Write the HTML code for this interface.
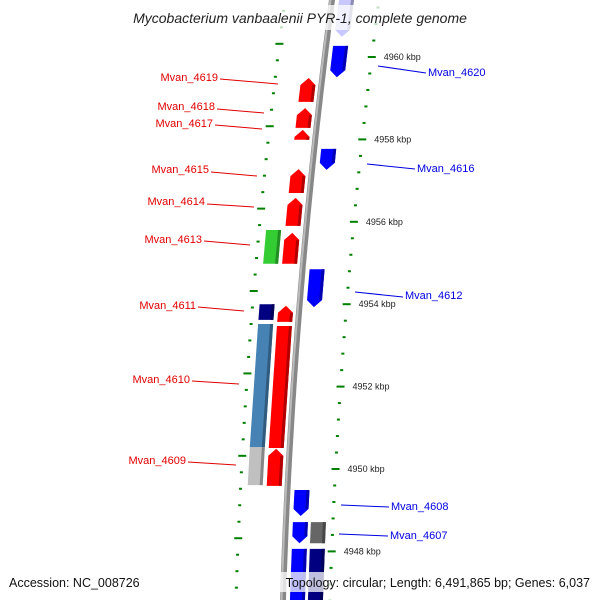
<!DOCTYPE html>
<html><head><meta charset="utf-8"><style>
html,body{margin:0;padding:0;background:#fff;}
svg{display:block;font-family:"Liberation Sans","DejaVu Sans",sans-serif;}
</style></head><body>
<svg id="map" width="600" height="600" viewBox="0 0 600 600" xmlns="http://www.w3.org/2000/svg">
<g id="ticks"></g>
<path id="backbone" fill="none" stroke="#888" stroke-width="6"/>
<path id="backbone-hi" fill="none" stroke="#bbb" stroke-width="2"/>
<g id="genes"></g>
<g id="labels" font-size="11"></g>
<g id="kbplabels" font-size="9" fill="#222"></g>
<rect x="112" y="5" width="376" height="25" fill="#fff" opacity="0.75"/>
<text x="300" y="23" text-anchor="middle" font-size="14" font-style="italic" fill="#222">Mycobacterium vanbaalenii PYR-1, complete genome</text>
<rect x="255" y="572" width="340" height="20" fill="#fff" opacity="0.75"/>
<text x="9" y="587" font-size="12.5" fill="#111">Accession: NC_008726</text>
<text x="590" y="587" text-anchor="end" font-size="12.5" fill="#111">Topology: circular; Length: 6,491,865 bp; Genes: 6,037</text>
</svg>
<script>
const geneNames = ["top","Mvan_4620","Mvan_4619","Mvan_4618","Mvan_4617","Mvan_4616","Mvan_4615","Mvan_4614","green","Mvan_4613","Mvan_4612","navy","Mvan_4611","steel","Mvan_4610","gray1","Mvan_4609","Mvan_4608","Mvan_4607","gray2","blue-bottom","navy-bottom"];
const geneStart = [4960.49,4959.51,4958.91,4958.28,4957.99,4957.26,4956.70,4955.90,4954.98,4954.98,4953.93,4953.62,4953.57,4950.53,4950.51,4949.61,4949.59,4948.86,4948.20,4948.20,4946.8,4946.8];
const geneEnd   = [4961.4,4960.27,4959.49,4958.76,4958.23,4957.77,4957.28,4956.58,4955.80,4955.73,4954.85,4954.00,4953.96,4953.52,4953.47,4950.53,4950.49,4949.49,4948.71,4948.71,4948.06,4948.06];
const geneStrand = [1,1,-1,-1,-1,1,-1,-1,-1,-1,1,-1,-1,-1,-1,-1,-1,1,1,1,1,1];
const geneTrack  = [1,1,1,1,1,1,1,1,2,1,1,2,1,2,1,2,1,1,1,2,1,2];
const geneColor  = ["#c8c8ff","#0000ff","#ff0000","#ff0000","#ff0000","#0000ff","#ff0000","#ff0000","#33cc33","#ff0000","#0000ff","#000080","#ff0000","#4682b4","#ff0000","#c0c0c0","#ff0000","#0000ff","#0000ff","#666666","#0000ff","#000080"];
const geneArrow  = [1,1,1,1,1,1,1,1,0,1,1,0,1,0,0,0,1,1,1,0,0,0];
const majorTicks = [4960,4958,4956,4954,4952,4950,4948];
const majorLabels = ["4960 kbp","4958 kbp","4956 kbp","4954 kbp","4952 kbp","4950 kbp","4948 kbp"];

const NS="http://www.w3.org/2000/svg";
function yOf(k){return 57+(4960-k)*41.2;}
function bx(y){return 332-0.1317*y+8.33e-5*y*y;}
function el(t,a){const e=document.createElementNS(NS,t);for(const k in a)e.setAttribute(k,a[k]);return e;}

// backbone
let d="";for(let y=-5;y<=605;y+=5){d+=(y<0?"M":"L")+bx(y).toFixed(1)+" "+y+" ";}
document.getElementById("backbone").setAttribute("d",d);
let d2="";for(let y=-5;y<=605;y+=5){d2+=(y<0?"M":"L")+(bx(y)-1.5).toFixed(1)+" "+y+" ";}
document.getElementById("backbone-hi").setAttribute("d",d2);

// ticks
const tg=document.getElementById("ticks");
for(let i=-4;i<=40;i++){
  const k=4960-i*0.4; const y=yOf(k); if(y<-5||y>605)continue;
  const major=(i%5===0);
  const x=bx(y)+47;
  const t=el("line",{x1:x-(major?4:1.5),x2:x+(major?4:1.5),y1:y,y2:y,stroke:"#008000","stroke-width":2});
  
  
  tg.appendChild(t);
  const k2=k+0.32; const y2=yOf(k2);
  if(y2<-5||y2>605)continue;
  const x2=bx(y2)-47;
  const t2=el("line",{x1:x2-(major?4:1.5),x2:x2+(major?4:1.5),y1:y2,y2:y2,stroke:"#008000","stroke-width":2});
  
  
  tg.appendChild(t2);
}
const kl=document.getElementById("kbplabels");
majorTicks.forEach((k,i)=>{const y=yOf(k);
  const t=el("text",{x:bx(y)+59,y:y+3});t.textContent=majorLabels[i];
  
  
  kl.appendChild(t);});

// genes
const gg=document.getElementById("genes");
function shade(c){const n=parseInt(c.slice(1),16);const r=(n>>16)*0.7|0,g=((n>>8)&255)*0.7|0,b=(n&255)*0.7|0;return "rgb("+r+","+g+","+b+")";}
geneNames.forEach((n,i)=>{
  const ya=yOf(geneEnd[i]), yb=yOf(geneStart[i]);
  const top=Math.min(ya,yb), bot=Math.max(ya,yb);
  const s=geneStrand[i];
  const o1 = s>0 ? (geneTrack[i]===1?7:25) : (geneTrack[i]===1?-21:-40);
  const o2 = o1+15;
  const P=(o,y)=>[(bx(y)+o).toFixed(1),y.toFixed(1)].join(",");
  let pts;
  const h=Math.min(7,bot-top);
  if(geneArrow[i]){
    if(s<0){ // points up
      pts=[P(o1,bot),P(o1,top+h),P((o1+o2)/2,top),P(o2,top+h),P(o2,bot)];
    } else { // points down
      pts=[P(o1,top),P(o2,top),P(o2,bot-h),P((o1+o2)/2,bot),P(o1,bot-h)];
    }
  } else pts=[P(o1,top),P(o2,top),P(o2,bot),P(o1,bot)];
  const g=el("polygon",{points:pts.join(" "),fill:geneColor[i]});
  
  
  gg.appendChild(g);
  const sp=[P(o2-3,top+(s<0&&geneArrow[i]?h:0)),P(o2,top+(s<0&&geneArrow[i]?h:0)),P(o2,bot-(s>0&&geneArrow[i]?h:0)),P(o2-3,bot-(s>0&&geneArrow[i]?h:0))];
  const e=el("polygon",{points:sp.join(" "),fill:shade(geneColor[i])});
  
  
  gg.appendChild(e);
});
// top white fade over first gene already via title bg

// labels
const labels=[
 ["Mvan_4619",218,81,"end","#e00000",220,79,278,84],
 ["Mvan_4618",215,110,"end","#e00000",217,109,264,113],
 ["Mvan_4617",213,127,"end","#e00000",215,125,262,129],
 ["Mvan_4615",209,173,"end","#e00000",211,172,257,176],
 ["Mvan_4614",205,205,"end","#e00000",207,204,254,207],
 ["Mvan_4613",202,243,"end","#e00000",204,241,250,245],
 ["Mvan_4611",196,309,"end","#e00000",198,307,244,311],
 ["Mvan_4610",190,383,"end","#e00000",192,381,239,384],
 ["Mvan_4609",186,464,"end","#e00000",188,462,236,465],
 ["Mvan_4620",428,76,"start","#0000e0",378,66,426,73],
 ["Mvan_4616",417,172,"start","#0000e0",367,164,415,169],
 ["Mvan_4612",405,299,"start","#0000e0",355,292,403,297],
 ["Mvan_4608",391,510,"start","#0000e0",341,505,389,507],
 ["Mvan_4607",390,539,"start","#0000e0",339,534,388,536]
];
const lg=document.getElementById("labels");
labels.forEach(l=>{
  const ln=el("line",{x1:l[5],y1:l[6],x2:l[7],y2:l[8],stroke:l[4],"stroke-width":1});
  
  
  lg.appendChild(ln);
  const t=el("text",{x:l[1],y:l[2],"text-anchor":l[3],fill:l[4]});t.textContent=l[0];
  
  
  lg.appendChild(t);
});
</script>
</body></html>
